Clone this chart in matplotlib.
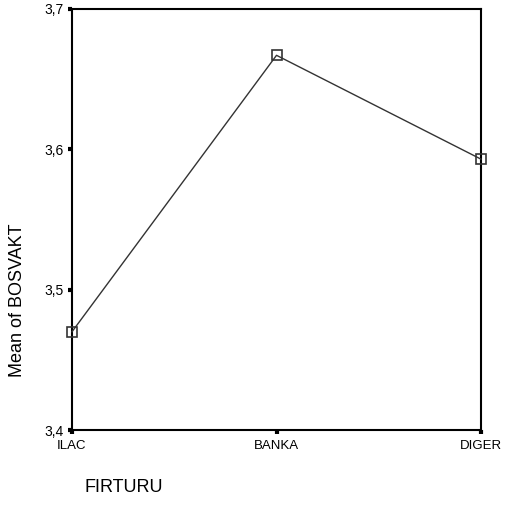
import matplotlib.pyplot as plt

plt.rcParams['font.family'] = ['Liberation Sans', 'DejaVu Sans']

categories = ['ILAC', 'BANKA', 'DIGER']
means = [3.470, 3.667, 3.593]
y_ticks = [3.4, 3.5, 3.6, 3.7]
y_tick_labels = ['3,4', '3,5', '3,6', '3,7']

fig = plt.figure(figsize=(5.05, 5.13), dpi=100)
ax = fig.add_axes([72 / 505, 1 - 430 / 513, (481 - 72) / 505, (430 - 9) / 513])

ax.plot(range(len(categories)), means, color='#333333', linewidth=1,
        marker='s', markersize=7, markerfacecolor='none',
        markeredgecolor='#333333', markeredgewidth=1.2, clip_on=False, zorder=5)

ax.set_xlim(0, len(categories) - 1)
ax.set_ylim(3.4, 3.7)
ax.set_xticks(range(len(categories)))
ax.set_xticklabels(categories, fontsize=9.5)
ax.set_yticks(y_ticks)
ax.set_yticklabels(y_tick_labels, fontsize=10)
ax.tick_params(direction='out', length=3, width=3, color='black', pad=3)
ax.tick_params(axis='x', pad=4)

for side in ['left', 'bottom', 'right', 'top']:
    ax.spines[side].set_linewidth(1.5)

fig.text(18 / 505, 1 - 300 / 513, 'Mean of BOSVAKT', rotation=90,
         ha='center', va='center', fontsize=13)
fig.text(85 / 505, 1 - 487 / 513, 'FIRTURU', ha='left', va='center', fontsize=13)

fig.savefig('out.png', dpi=100)
